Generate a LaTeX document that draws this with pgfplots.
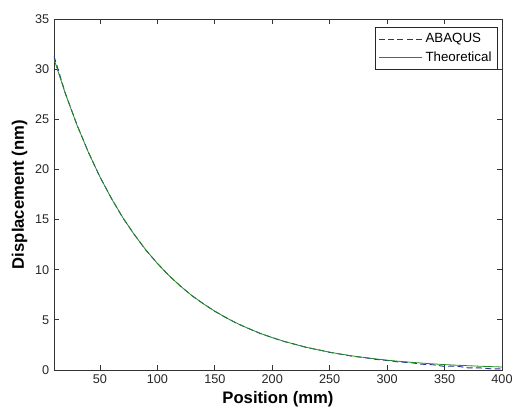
\documentclass[border=0pt]{standalone}
\usepackage{pgfplots}
\pgfplotsset{compat=1.18}
\usepackage{fontspec}
\setmainfont{Liberation Sans}
\definecolor{abq}{RGB}{45,45,155}
\definecolor{theo}{RGB}{30,140,30}
\pgfplotstableread{
x y
10 31.00
20 27.52
30 24.43
40 21.69
50 19.26
60 17.10
70 15.18
80 13.48
90 11.97
100 10.62
110 9.43
120 8.37
130 7.43
140 6.60
150 5.86
160 5.20
170 4.62
180 4.10
190 3.64
200 3.23
210 2.87
220 2.55
230 2.26
240 2.01
250 1.78
260 1.58
270 1.40
280 1.25
290 1.11
300 0.98
310 0.87
320 0.78
330 0.69
340 0.61
350 0.54
360 0.48
370 0.43
380 0.38
390 0.34
400 0.30
}\theo
\pgfplotstableread{
x y
10 31.30
20 27.55
30 24.45
40 21.70
50 19.25
60 17.12
70 15.16
80 13.50
90 11.95
100 10.64
110 9.42
120 8.38
130 7.41
140 6.61
150 5.85
160 5.21
170 4.60
180 4.11
190 3.62
200 3.24
210 2.85
220 2.56
230 2.24
240 2.02
250 1.76
260 1.57
270 1.37
280 1.24
290 1.06
300 0.95
310 0.80
320 0.74
330 0.58
340 0.52
350 0.36
360 0.40
370 0.22
380 0.22
390 0.12
400 0.10
}\abaqus
\begin{document}
\begin{tikzpicture}
\begin{axis}[
  scale only axis,
  width=336pt, height=263.25pt,
  xmin=10, xmax=400, ymin=0, ymax=35,
  xtick={50,100,...,400},
  ytick={0,5,...,35},
  tick align=inside,
  major tick length=3.5pt,
  axis line style={black!80, line width=0.6pt},
  every tick/.style={black!80, line width=0.6pt},
  tick label style={font=\fontsize{9.5}{11}\selectfont, black!85},
  /pgf/number format/assume math mode=true,
  xlabel={Position (mm)},
  ylabel={Displacement (nm)},
  label style={font=\fontsize{12.5}{14}\selectfont\bfseries},
  xlabel style={yshift=1pt},
  ylabel style={yshift=-1pt},
  legend style={at={(0.989,0.977)}, anchor=north east, draw=black!85,
    font=\fontsize{10}{12}\selectfont, inner xsep=2pt, inner ysep=2.5pt,
    cells={anchor=west}, row sep=1.5pt},
  legend cell align=left,
  legend image code/.code={\draw[#1] (0cm,0cm) -- (1.15cm,0cm);},
]
\coordinate (sw) at (rel axis cs:0,0);
\coordinate (ne) at (rel axis cs:1,1);
\addplot[abq, dashed, line width=0.7pt, dash pattern=on 4.5pt off 2.5pt] table[x=x,y=y]{\abaqus};
\addlegendentry{ABAQUS}
\addplot[theo, line width=0.6pt] table[x=x,y=y]{\theo};
\addlegendentry{Theoretical}
\end{axis}
\pgfresetboundingbox
\path ([shift={(-40.5pt,-30pt)}]sw) rectangle ([shift={(7.5pt,14.25pt)}]ne);
\end{tikzpicture}
\end{document}
